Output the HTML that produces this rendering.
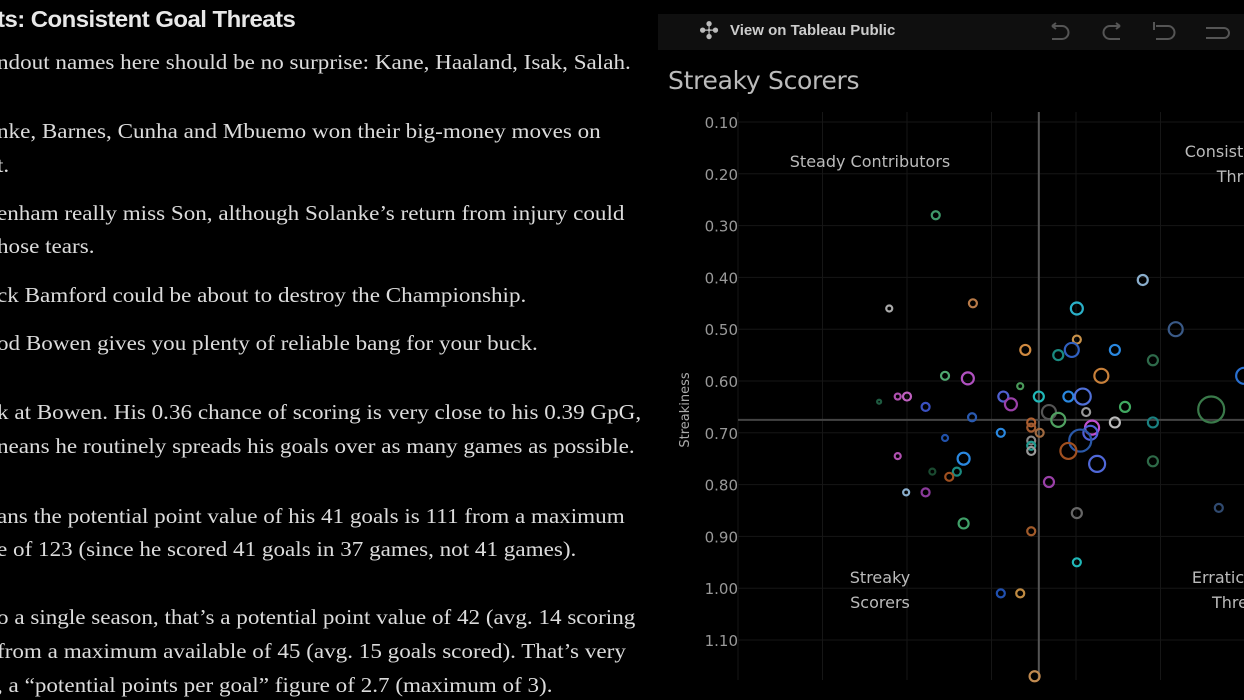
<!DOCTYPE html>
<html><head><meta charset="utf-8">
<style>
body{margin:0;width:1244px;height:700px;background:#000;overflow:hidden;position:relative;font-family:"Liberation Serif",serif;}
.ln{position:absolute;left:-3px;color:#dcdcdc;font-size:21px;white-space:nowrap;line-height:24px;transform:scaleX(1.1);transform-origin:0 0;}
#hd{position:absolute;left:-3px;top:6px;color:#e8e8e8;font:bold 23px "Liberation Sans",sans-serif;letter-spacing:-0.5px;transform:scaleX(1.04);transform-origin:0 0;}
#toolbar{position:absolute;left:658px;top:14px;width:586px;height:36px;background:#0f0f0f;}
#tp{position:absolute;left:730px;top:22px;color:#ccc;font:bold 15px "Liberation Sans",sans-serif;}
#title{position:absolute;left:668px;top:66px;color:#bbb;font:25px "DejaVu Sans",sans-serif;letter-spacing:-0.3px;}
</style></head><body>
<div id="hd">ts: Consistent Goal Threats</div>
<div class="ln" style="top:50px">ndout names here should be no surprise: Kane, Haaland, Isak, Salah.</div>
<div class="ln" style="top:119px">nke, Barnes, Cunha and Mbuemo won their big-money moves on</div>
<div class="ln" style="top:153px">t.</div>
<div class="ln" style="top:201px">enham really miss Son, although Solanke’s return from injury could</div>
<div class="ln" style="top:234px">hose tears.</div>
<div class="ln" style="top:283px">ck Bamford could be about to destroy the Championship.</div>
<div class="ln" style="top:331px">od Bowen gives you plenty of reliable bang for your buck.</div>
<div class="ln" style="top:400px">k at Bowen. His 0.36 chance of scoring is very close to his 0.39 GpG,</div>
<div class="ln" style="top:434px">neans he routinely spreads his goals over as many games as possible.</div>
<div class="ln" style="top:504px">ans the potential point value of his 41 goals is 111 from a maximum</div>
<div class="ln" style="top:537px">e of 123 (since he scored 41 goals in 37 games, not 41 games).</div>
<div class="ln" style="top:605px">o a single season, that’s a potential point value of 42 (avg. 14 scoring</div>
<div class="ln" style="top:639px">from a maximum available of 45 (avg. 15 goals scored). That’s very</div>
<div class="ln" style="top:673px">, a “potential points per goal” figure of 2.7 (maximum of 3).</div>

<div id="toolbar"></div>
<div style="position:absolute;left:699px;top:17px;color:#bbb;font:24px 'DejaVu Sans';">✣</div>
<div id="tp">View on Tableau Public</div>
<svg style="position:absolute;left:1040px;top:18px" width="204" height="28">
<g fill="none" stroke="#555" stroke-width="2">
<path d="M12 8 L22 8 A6 6 0 0 1 22 21 L12 21 M12 8 l4 -3 M12 8 l4 3"/>
<path d="M80 8 L70 8 A6 6 0 0 0 70 21 L80 21 M80 8 l-4 -3 M80 8 l-4 3"/>
<path d="M116 8 L128 8 A6 6 0 0 1 128 21 L116 21 M114 4 v8"/>
<path d="M166 10 L184 10 A4 4 0 0 1 184 20 L166 20"/>
</g></svg>
<div id="title">Streaky Scorers</div>

<svg id="chart" style="position:absolute;left:0;top:0" width="1244" height="700"></svg>
<script>
const xVals=[2.34,1.79,2.78,4.79,4.01,5.18,4.01,3.40,3.95,4.46,3.79,4.91,2.45,2.72,4.30,3.34,5.99,1.89,2.00,1.67,2.22,3.14,3.23,3.56,3.91,4.08,5.60,4.58,3.68,3.79,4.12,4.46,4.91,2.77,3.47,3.47,3.57,3.11,4.19,4.17,4.05,2.45,3.47,3.47,3.47,3.91,4.25,2.67,4.91,1.89,2.30,2.59,2.50,3.68,1.99,2.22,4.01,5.69,2.67,3.47,4.01,3.11,3.34,3.51];
const yVals=[0.28,0.46,0.45,0.405,0.46,0.50,0.52,0.54,0.54,0.54,0.55,0.56,0.59,0.595,0.59,0.61,0.59,0.63,0.63,0.64,0.65,0.63,0.645,0.63,0.63,0.63,0.655,0.65,0.66,0.675,0.66,0.68,0.68,0.67,0.68,0.69,0.70,0.70,0.69,0.70,0.715,0.71,0.715,0.725,0.735,0.735,0.76,0.75,0.755,0.745,0.775,0.775,0.785,0.795,0.815,0.815,0.855,0.845,0.875,0.89,0.95,1.01,1.01,1.17];
const sizes=[4,3,4,5,6,7,4,5,7,5,5,5,4,6,7,3,8,3,4,2,4,5,6,5,5,8,13,5,7,7,4,5,5,4,4,4,4,4,7,7,11,3,4,4,4,8,8,6,5,3,3,4,4,5,3,4,5,4,5,4,4,4,4,5];
const colors=["#3f9a6a","#aaa","#b87a48","#8aaecc","#2ab0c8","#3a5a88","#c9924a","#d08a40","#3060c0","#2a88e0","#1a8a80","#2e6a4a","#4fa870","#b050c0","#c8803a","#4a9a5a","#2a70d0","#b050b0","#c060c0","#1e5a40","#3a50c0","#5060d0","#9a40a8","#20b8b8","#2a88e0","#5070d8","#3a7a4a","#40a860","#555","#4fa060","#999","#bbb","#1a8080","#2a5ab0","#b06030","#a05a30","#a06a40","#2a88e0","#c050d0","#5060d8","#2a58a8","#2050a8","#888","#209a90","#999","#a05020","#5068d8","#2a88e0","#2e6a48","#b050b0","#1a4a30","#1a8a80","#a05020","#9a40a8","#8aaecc","#8a3a9a","#666","#304a70","#40a068","#a05a2a","#20b8b8","#2050b0","#c08a40","#c08a50"];
const yTicks=[0.10,0.20,0.30,0.40,0.50,0.60,0.70,0.80,0.90,1.00,1.10];
const xTicks=[0,1,2,3,4,5,6];
const refX=3.56, refY=0.675;
const ns="http://www.w3.org/2000/svg";
const svg=document.getElementById('chart');
const X=v=>738+v*84.5;
const Y=v=>122+(v-0.10)*518;
function mk(t,a){const e=document.createElementNS(ns,t);for(const k in a)e.setAttribute(k,a[k]);svg.appendChild(e);return e;}
xTicks.forEach(t=>{const l=mk('line',{x1:X(t),x2:X(t),y1:112,y2:680,stroke:'#161616'});

});
yTicks.forEach(t=>{const l=mk('line',{x1:738,x2:1244,y1:Y(t),y2:Y(t),stroke:'#161616'});


const tx=mk('text',{x:738,y:Y(t)+6,fill:'#999','text-anchor':'end','font-family':'DejaVu Sans','font-size':'15'});tx.textContent=t.toFixed(2);

});
const yt=mk('text',{x:0,y:0,fill:'#aaa','font-family':'DejaVu Sans','font-size':'13',transform:'translate(689,410) rotate(-90)','text-anchor':'middle'});yt.textContent='Streakiness';


const rx=mk('line',{x1:X(refX),x2:X(refX),y1:112,y2:680,stroke:'#555','stroke-width':2});


const ry=mk('line',{x1:738,x2:1244,y1:Y(refY),y2:Y(refY),stroke:'#444','stroke-width':2});


[["Steady Contributors",870,167],["Consist",1214,157],["Thr",1230,182],["Streaky",880,583],["Scorers",880,608],["Erratic",1218,583],["Thre",1230,608]].forEach(q=>{
const t=mk('text',{x:q[1],y:q[2],fill:'#bbb','text-anchor':'middle','font-family':'DejaVu Sans','font-size':'16'});t.textContent=q[0];

});
xVals.forEach((v,i)=>{const c=mk('circle',{cx:X(v),cy:Y(yVals[i]),r:sizes[i],fill:'none',stroke:colors[i],'stroke-width':2.2});

});
</script>
</body></html>
